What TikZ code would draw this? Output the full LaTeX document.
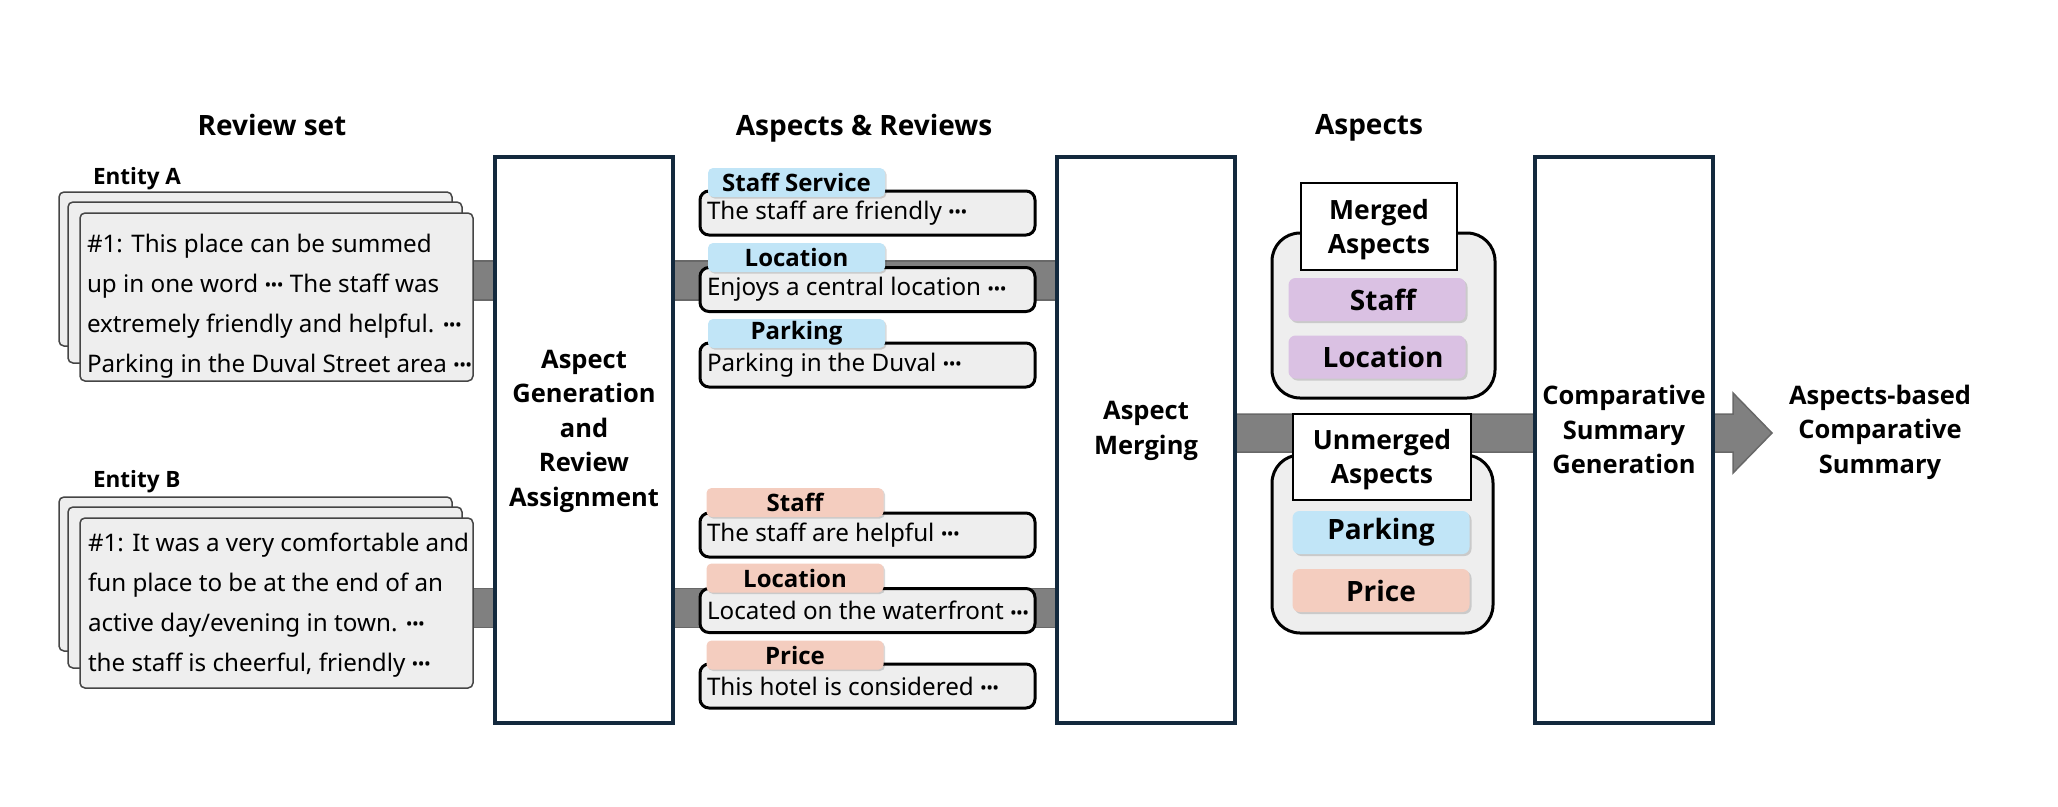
\documentclass[tikz,border=0pt]{standalone}
\usepackage{fontspec}
\setmainfont{Noto Sans}
\IfFontExistsTF{NotoSans-Bold.ttf}{\newfontfamily\bsans{NotoSans-Bold.ttf}}{%
 \IfFontExistsTF{Noto Sans Bold}{\newfontfamily\bsans{Noto Sans Bold}}{%
  \IfFontExistsTF{Open Sans Bold}{\newfontfamily\bsans{Open Sans Bold}}{%
   \newfontfamily\bsans{Liberation Sans Bold}}}}
\newcommand{\dts}{\mbox{\raisebox{0.5pt}{\fontsize{18}{18}\selectfont•\kern-0.6pt•\kern-0.6pt•}}}
\usetikzlibrary{backgrounds,shadows,calc}
\definecolor{navy}{HTML}{13293D}
\definecolor{cardfill}{HTML}{EEEEEE}
\definecolor{cardline}{HTML}{454545}
\definecolor{lblue}{HTML}{C1E5F7}
\definecolor{lred}{HTML}{F4CDBF}
\definecolor{lpurple}{HTML}{DAC1E3}
\definecolor{barfill}{HTML}{808080}
\definecolor{barline}{HTML}{686868}
\begin{document}
\begin{tikzpicture}[x=1pt,y=-1pt,
 every node/.style={inner sep=0pt, outer sep=0pt},
 bigbox/.style={draw=navy, line width=3.5pt, fill=white, minimum width=178pt, minimum height=566pt, anchor=north west},
 bigtxt/.style={font=\fontsize{25.5}{34.5}\selectfont\bsans, align=center},
 ttl/.style={font=\fontsize{28}{32}\selectfont\bsans},
 ent/.style={font=\fontsize{22.5}{26}\selectfont\bsans, anchor=west},
 card/.style={draw=cardline, line width=1.5pt, fill=cardfill, rounded corners=5pt, anchor=north west},
 cardtxt/.style={font=\fontsize{24.2}{40}\selectfont, align=left, anchor=west},
 revbox/.style={draw=black, line width=3pt, fill=cardfill, rounded corners=9pt, minimum width=335pt, minimum height=44pt, font=\fontsize{24.2}{28}\selectfont},
 tagbase/.style={rounded corners=5pt, minimum width=177pt, minimum height=29pt, font=\fontsize{24}{26}\selectfont\bsans, drop shadow={shadow xshift=1.5pt, shadow yshift=-1.5pt, opacity=0.15, fill=black}},
 btag/.style={tagbase, fill=lblue},
 rtag/.style={tagbase, fill=lred},
 cont/.style={draw=black, line width=3pt, fill=cardfill, rounded corners=28pt},
 hdr/.style={draw=black, line width=2pt, fill=white},
 hdrtxt/.style={align=center, font=\fontsize{26.5}{34}\selectfont\bsans},
 chip/.style={rounded corners=7pt, minimum width=177pt, minimum height=43pt, font=\fontsize{28}{30}\selectfont\bsans, drop shadow={shadow xshift=2pt, shadow yshift=-2pt, opacity=0.15, fill=black}},
 bar/.style={line width=1.5pt, draw=barline, double=barfill, double distance=37.5pt},
 blockarrow/.style={line width=1.5pt, draw=barline, fill=barfill, line join=miter}
]
\useasboundingbox (0,0) rectangle (2058,806);

% titles
\node[ttl] (t1) at (272,125) {Review set};
\node[ttl] (t2) at (864,128) {Aspects \& Reviews};
\node[ttl] (t3) at (1369,128) {Aspects};

% entity A
\node[ent] (entA) at (93,179) {Entity A};
\node[card, minimum width=393pt, minimum height=154pt] (cardA1) at (59,192) {};
\node[card, minimum width=394pt, minimum height=161pt] (cardA2) at (68,202) {};
\node[card, minimum width=393pt, minimum height=168pt] (cardA3) at (80,213) {};
\node[cardtxt] (txtA) at (87,306) {\#1: This place can be summed\\up in one word \dts{} The staff was\\extremely friendly and helpful. \dts\\Parking in the Duval Street area \dts};

% entity B
\node[ent] (entB) at (93,482) {Entity B};
\node[card, minimum width=393pt, minimum height=154pt] (cardB1) at (59,497) {};
\node[card, minimum width=394pt, minimum height=161pt] (cardB2) at (68,507) {};
\node[card, minimum width=393pt, minimum height=170pt] (cardB3) at (80,518) {};
\node[cardtxt] (txtB) at (88,605) {\#1: It was a very comfortable and\\fun place to be at the end of an\\active day/evening in town. \dts\\the staff is cheerful, friendly \dts};

% process boxes
\node[bigbox] (agen) at (495,157) {};
\node[bigtxt] (agentxt) at (584,431) {Aspect\\Generation\\and\\Review\\Assignment};
\node[bigbox] (merge) at (1057,157) {};
\node[bigtxt] (mergetxt) at (1146,431) {Aspect\\Merging};
\node[bigbox] (summ) at (1535,157) {};
\node[bigtxt] (summtxt) at (1624,429.5) {Comparative\\Summary\\Generation};
\node[bigtxt] (out) at (1880,432) {Aspects-based\\Comparative\\Summary};

% aspects & reviews, entity A
\node[revbox] (rA1) at (867.5,213) {\makebox[321pt][l]{The staff are friendly \dts}};
\node[btag] (gA1) at (796.5,182.5) {Staff Service};
\node[revbox] (rA2) at (867.5,289.5) {\makebox[321pt][l]{Enjoys a central location \dts}};
\node[btag] (gA2) at (796.5,257.5) {Location};
\node[revbox] (rA3) at (867.5,365) {\makebox[321pt][l]{Parking in the Duval \dts}};
\node[btag] (gA3) at (796.5,333.5) {Parking};

% aspects & reviews, entity B
\node[revbox] (rB1) at (867.5,535) {\makebox[321pt][l]{The staff are helpful \dts}};
\node[rtag] (gB1) at (795,502.5) {Staff};
\node[revbox] (rB2) at (867.5,610.5) {\makebox[321pt][l]{Located on the waterfront \dts}};
\node[rtag] (gB2) at (795,578) {Location};
\node[revbox] (rB3) at (867.5,686) {\makebox[321pt][l]{This hotel is considered \dts}};
\node[rtag] (gB3) at (795,655) {Price};

% merged aspects
\node[cont, minimum width=223pt, minimum height=165pt] (mcont) at (1383.5,315.5) {};
\node[hdr, minimum width=156pt, minimum height=87pt] (mhdr) at (1379,226.5) {};
\node[hdrtxt] (mhdrtxt) at (1379,230) {Merged\\Aspects};
\node[chip, fill=lpurple] (mc1) at (1377,299.5) {\hspace*{12pt}Staff};
\node[chip, fill=lpurple] (mc2) at (1377,357) {\hspace*{12pt}Location};

% unmerged aspects
\node[cont, minimum width=221pt, minimum height=178pt] (ucont) at (1382.5,544) {};
\node[hdr, minimum width=178pt, minimum height=86pt] (uhdr) at (1382,457) {};
\node[hdrtxt] (uhdrtxt) at (1382,460) {Unmerged\\Aspects};
\node[chip, fill=lblue] (uc1) at (1381,532.5) {Parking};
\node[chip, fill=lred] (uc2) at (1381,590.5) {Price};

% connectors
\coordinate (yA) at (0,280.5);
\coordinate (yB) at (0,608);
\coordinate (yC) at (0,433);
\begin{scope}[on background layer]
\draw[bar] (cardA3.center |- yA) -- (merge.center |- yA);
\draw[bar] (cardB3.center |- yB) -- (merge.center |- yB);
\draw[blockarrow] ($(merge.center |- yC)+(0,-19)$) -- ($(summ.east |- yC)+(20,-19)$) -- ($(summ.east |- yC)+(20,-40)$) -- ($(summ.east |- yC)+(59,0)$) -- ($(summ.east |- yC)+(20,40)$) -- ($(summ.east |- yC)+(20,19)$) -- ($(merge.center |- yC)+(0,19)$) -- cycle;
\end{scope}
\end{tikzpicture}
\end{document}
